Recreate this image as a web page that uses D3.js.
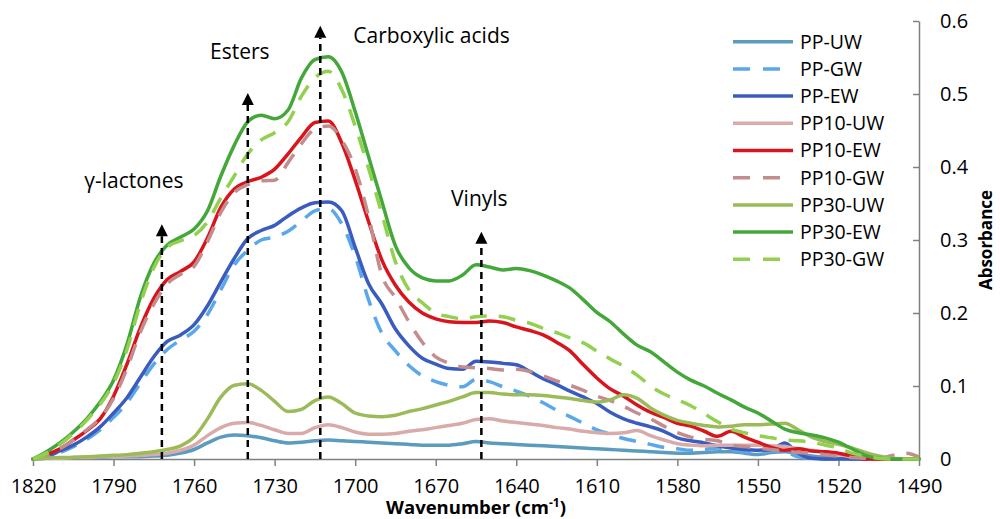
<!DOCTYPE html>
<html>
<head>
<meta charset="utf-8">
<script src="https://cdn.jsdelivr.net/npm/d3@7"></script>
<style>
  body { margin: 0; background: #fff; }
  svg { display: block; }
  text { font-family: "Open Sans", "DejaVu Sans", sans-serif; fill: #000; }
</style>
</head>
<body>
<svg id="chart" width="1000" height="519"></svg>
<script>
// ---------------- DATA ----------------
const wavenumbers = [
  1820, 1815, 1810, 1805, 1800, 1795, 1790, 1785, 1780, 1775,
  1770, 1765, 1760, 1755, 1750, 1745, 1740, 1735, 1730, 1725,
  1720, 1715, 1710, 1705, 1700, 1695, 1690, 1685, 1680, 1675,
  1670, 1665, 1660, 1655, 1650, 1645, 1640, 1635, 1630, 1625,
  1620, 1615, 1610, 1605, 1600, 1595, 1590, 1585, 1580, 1575,
  1570, 1565, 1560, 1555, 1550, 1545, 1540, 1535, 1530, 1525,
  1520, 1515, 1510, 1505, 1500, 1495, 1490
];

const ppUW = [
  0, 0.001, 0.001, 0.002, 0.002, 0.002, 0.003, 0.003, 0.003, 0.004,
  0.005, 0.008, 0.013, 0.022, 0.030, 0.033, 0.032, 0.029, 0.025, 0.022,
  0.023, 0.025, 0.026, 0.025, 0.024, 0.023, 0.022, 0.021, 0.020, 0.019,
  0.019, 0.019, 0.021, 0.024, 0.022, 0.021, 0.020, 0.019, 0.018, 0.017,
  0.016, 0.015, 0.014, 0.013, 0.012, 0.011, 0.010, 0.009, 0.008, 0.008,
  0.009, 0.010, 0.010, 0.008, 0.006, 0.009, 0.010, 0.007, 0.004, 0.002,
  0.001, 0, 0, 0, 0, 0, 0
];

const ppGW = [
  0, 0.002, 0.009, 0.017, 0.027, 0.040, 0.057, 0.077, 0.104, 0.130,
  0.150, 0.163, 0.175, 0.198, 0.232, 0.266, 0.286, 0.300, 0.304, 0.312,
  0.326, 0.340, 0.343, 0.322, 0.278, 0.218, 0.172, 0.148, 0.128, 0.114,
  0.106, 0.101, 0.099, 0.109, 0.106, 0.099, 0.093, 0.086, 0.077, 0.067,
  0.058, 0.049, 0.040, 0.034, 0.028, 0.024, 0.020, 0.016, 0.014, 0.012,
  0.013, 0.015, 0.012, 0.010, 0.008, 0.011, 0.010, 0.003, 0.001, 0,
  0, 0, 0, 0, 0, 0, 0
];

const ppEW = [
  0, 0.003, 0.011, 0.019, 0.030, 0.044, 0.063, 0.084, 0.112, 0.140,
  0.161, 0.170, 0.184, 0.210, 0.243, 0.275, 0.302, 0.313, 0.320, 0.333,
  0.344, 0.351, 0.352, 0.340, 0.290, 0.240, 0.212, 0.178, 0.155, 0.138,
  0.130, 0.124, 0.123, 0.134, 0.133, 0.131, 0.129, 0.120, 0.110, 0.102,
  0.093, 0.085, 0.076, 0.064, 0.055, 0.049, 0.044, 0.038, 0.029, 0.025,
  0.022, 0.018, 0.015, 0.013, 0.012, 0.013, 0.022, 0.008, 0.001, 0,
  0, 0, 0, 0, 0, 0, 0
];

const pp10UW = [
  0, 0.001, 0.001, 0.002, 0.002, 0.003, 0.003, 0.004, 0.005, 0.006,
  0.008, 0.012, 0.019, 0.032, 0.043, 0.049, 0.050, 0.046, 0.040, 0.035,
  0.035, 0.043, 0.047, 0.043, 0.037, 0.034, 0.034, 0.035, 0.038, 0.040,
  0.043, 0.046, 0.049, 0.054, 0.055, 0.052, 0.050, 0.048, 0.046, 0.043,
  0.041, 0.038, 0.036, 0.035, 0.036, 0.039, 0.032, 0.026, 0.021, 0.019,
  0.018, 0.019, 0.019, 0.019, 0.019, 0.018, 0.017, 0.014, 0.012, 0.009,
  0.006, 0.003, 0.001, 0, 0, 0, 0
];

const pp10EW = [
  0, 0.006, 0.014, 0.026, 0.039, 0.055, 0.086, 0.130, 0.180, 0.220,
  0.246, 0.257, 0.270, 0.303, 0.345, 0.370, 0.380, 0.386, 0.397, 0.418,
  0.441, 0.461, 0.463, 0.433, 0.382, 0.325, 0.272, 0.238, 0.215, 0.200,
  0.192, 0.188, 0.187, 0.187, 0.189, 0.187, 0.181, 0.176, 0.170, 0.160,
  0.148, 0.129, 0.111, 0.096, 0.086, 0.074, 0.064, 0.057, 0.049, 0.045,
  0.038, 0.031, 0.038, 0.030, 0.023, 0.016, 0.012, 0.014, 0.011, 0.010,
  0.008, 0.004, 0, 0, 0, 0, 0
];

const pp10GW = [
  0, 0.005, 0.014, 0.026, 0.040, 0.056, 0.083, 0.124, 0.174, 0.212,
  0.240, 0.253, 0.264, 0.298, 0.338, 0.365, 0.376, 0.381, 0.382, 0.406,
  0.432, 0.452, 0.456, 0.437, 0.398, 0.332, 0.251, 0.221, 0.188, 0.160,
  0.140, 0.131, 0.126, 0.125, 0.124, 0.122, 0.123, 0.120, 0.114, 0.107,
  0.101, 0.094, 0.086, 0.080, 0.072, 0.063, 0.055, 0.045, 0.036, 0.030,
  0.027, 0.025, 0.019, 0.017, 0.015, 0.013, 0.011, 0.009, 0.008, 0.006,
  0.004, 0.002, 0.001, 0.001, 0.005, 0.008, 0.003
];

const pp30UW = [
  0, 0.001, 0.002, 0.002, 0.003, 0.004, 0.005, 0.006, 0.008, 0.010,
  0.013, 0.018, 0.030, 0.055, 0.085, 0.101, 0.103, 0.094, 0.079, 0.065,
  0.068, 0.080, 0.085, 0.076, 0.063, 0.059, 0.058, 0.060, 0.065, 0.069,
  0.074, 0.079, 0.085, 0.091, 0.091, 0.089, 0.088, 0.088, 0.087, 0.085,
  0.083, 0.080, 0.078, 0.081, 0.088, 0.083, 0.070, 0.060, 0.053, 0.049,
  0.046, 0.044, 0.045, 0.047, 0.047, 0.048, 0.049, 0.040, 0.030, 0.024,
  0.020, 0.015, 0.009, 0.004, 0.001, 0, 0
];

const pp30EW = [
  0, 0.010, 0.022, 0.037, 0.055, 0.078, 0.108, 0.157, 0.222, 0.268,
  0.293, 0.304, 0.315, 0.340, 0.388, 0.430, 0.462, 0.471, 0.466, 0.478,
  0.522, 0.547, 0.551, 0.530, 0.476, 0.414, 0.352, 0.292, 0.262, 0.248,
  0.244, 0.244, 0.252, 0.266, 0.263, 0.259, 0.261, 0.258, 0.252, 0.244,
  0.234, 0.218, 0.201, 0.188, 0.171, 0.156, 0.147, 0.133, 0.119, 0.108,
  0.100, 0.090, 0.081, 0.071, 0.063, 0.052, 0.041, 0.036, 0.033, 0.029,
  0.023, 0.014, 0.005, 0.001, 0, 0, 0
];

const pp30GW = [
  0, 0.008, 0.020, 0.035, 0.053, 0.075, 0.104, 0.150, 0.213, 0.262,
  0.290, 0.299, 0.306, 0.325, 0.358, 0.388, 0.418, 0.437, 0.447, 0.462,
  0.497, 0.522, 0.531, 0.506, 0.456, 0.398, 0.335, 0.270, 0.232, 0.214,
  0.200, 0.195, 0.192, 0.195, 0.196, 0.195, 0.190, 0.186, 0.179, 0.173,
  0.166, 0.159, 0.148, 0.137, 0.127, 0.115, 0.100, 0.089, 0.081, 0.073,
  0.062, 0.051, 0.041, 0.036, 0.032, 0.029, 0.026, 0.025, 0.023, 0.019,
  0.015, 0.008, 0.004, 0.001, 0, 0, 0
];

const seriesNames = ["PP-UW", "PP-GW", "PP-EW", "PP10-UW", "PP10-EW", "PP10-GW", "PP30-UW", "PP30-EW", "PP30-GW"];
const seriesValues = [ppUW, ppGW, ppEW, pp10UW, pp10EW, pp10GW, pp30UW, pp30EW, pp30GW];

const xTicks = [1820, 1790, 1760, 1730, 1700, 1670, 1640, 1610, 1580, 1550, 1520, 1490];
const yTicks = [0, 0.1, 0.2, 0.3, 0.4, 0.5, 0.6];
const yTickLabels = ["0", "0.1", "0.2", "0.3", "0.4", "0.5", "0.6"];

const annotationLabels = ["γ-lactones", "Esters", "Carboxylic acids", "Vinyls"];
const annotationWavenumbers = [1772, 1740, 1713, 1653];
const annotationHeights = [0.305, 0.485, 0.577, 0.295];

const xTitle = "Wavenumber (cm";
const xTitleSup = "-1";
const yTitle = "Absorbance";

// ---------------- STYLES ----------------
const seriesColors = ["#5b9bbd", "#5aa7ea", "#3a5cbf", "#d8aaaa", "#d8151d", "#c38d8d", "#9bbb59", "#44a73a", "#92d050"];
const seriesDashed = [false, true, false, false, false, true, false, false, true];
// label offsets relative to arrow tip: [dx, dyBaseline, anchor]
const labelOffsets = [[-28, -36, "middle"], [-8, -34, "middle"], [33, 17, "start"], [-2, -26, "middle"]];

// ---------------- DRAW ----------------
const svg = d3.select("#chart");
const axisColor = "#808080";

const x = d3.scaleLinear().domain([1820, 1490]).range([33, 919]);
const y = d3.scaleLinear().domain([0, 0.6]).range([459, 21]);

// X axis
const gx = svg.append("g").attr("transform", `translate(0,${y(0)})`)
  .call(d3.axisBottom(x).tickValues(xTicks).tickFormat(d3.format("d"))
    .tickSizeInner(7).tickSizeOuter(0).tickPadding(13));
gx.select(".domain").attr("stroke", axisColor).attr("stroke-width", 1.5);
gx.selectAll(".tick line").attr("stroke", axisColor).attr("stroke-width", 1.5);
gx.selectAll(".tick text").attr("font-family", "Open Sans").attr("font-size", 20).attr("fill", "#000");

// Y axis (right)
const gy = svg.append("g").attr("transform", `translate(${x(1490)},0)`)
  .call(d3.axisRight(y).tickValues(yTicks).tickFormat((d, i) => yTickLabels[i])
    .tickSizeInner(-6).tickSizeOuter(0).tickPadding(21));
gy.select(".domain").attr("stroke", axisColor).attr("stroke-width", 1.5);
gy.selectAll(".tick line").attr("stroke", axisColor).attr("stroke-width", 1.5);
gy.selectAll(".tick text").attr("font-family", "Open Sans").attr("font-size", 20).attr("fill", "#000");

// Axis titles
const xt = svg.append("text")
  .attr("x", (x.range()[0] + x.range()[1]) / 2)
  .attr("y", 514)
  .attr("text-anchor", "middle")
  .attr("font-weight", "bold")
  .attr("font-size", 18.5);
xt.append("tspan").text(xTitle);
xt.append("tspan").attr("font-size", 12).attr("dy", -7).text(xTitleSup);
xt.append("tspan").attr("dy", 7).text(")");

svg.append("text")
  .attr("transform", `translate(986,${(y.range()[0] + y.range()[1]) / 2}) rotate(-90)`)
  .attr("text-anchor", "middle")
  .attr("dy", "0.35em")
  .attr("font-weight", "bold")
  .attr("font-size", 17)
  .text(yTitle);

// Series
const line = d3.line()
  .x((d, i) => x(wavenumbers[i]))
  .y(d => y(d))
  .curve(d3.curveMonotoneX);

seriesValues.forEach((vals, s) => {
  svg.append("path")
    .datum(vals)
    .attr("d", line)
    .attr("fill", "none")
    .attr("stroke", seriesColors[s])
    .attr("stroke-width", 3.5)
    .attr("stroke-linejoin", "round")
    .attr("stroke-linecap", seriesDashed[s] ? "butt" : "round")
    .attr("stroke-dasharray", seriesDashed[s] ? "17,12" : null);
});

// Annotations
annotationLabels.forEach((lab, i) => {
  const ax = x(annotationWavenumbers[i]);
  const base = y(annotationHeights[i]);
  svg.append("line")
    .attr("x1", ax).attr("x2", ax)
    .attr("y1", y(0)).attr("y2", base)
    .attr("stroke", "#000").attr("stroke-width", 2.5)
    .attr("stroke-dasharray", "7,5");
  const tip = base - 12;
  svg.append("path")
    .attr("d", `M${ax - 6},${base} L${ax + 6},${base} L${ax},${tip} Z`)
    .attr("fill", "#000");
  const off = labelOffsets[i];
  svg.append("text")
    .attr("x", ax + off[0])
    .attr("y", tip + off[1])
    .attr("text-anchor", off[2])
    .attr("font-size", 21)
    .text(lab);
});

// Legend
const legend = svg.append("g");
seriesNames.forEach((name, i) => {
  const ly = 41.7 + i * 27.2;
  legend.append("line")
    .attr("x1", 733).attr("x2", 793)
    .attr("y1", ly).attr("y2", ly)
    .attr("stroke", seriesColors[i])
    .attr("stroke-width", 3.5)
    .attr("stroke-dasharray", seriesDashed[i] ? "17,13" : null);
  legend.append("text")
    .attr("x", 800).attr("y", ly)
    .attr("dy", "0.35em")
    .attr("font-size", 19.5)
    .text(name);
});
</script>
</body>
</html>
